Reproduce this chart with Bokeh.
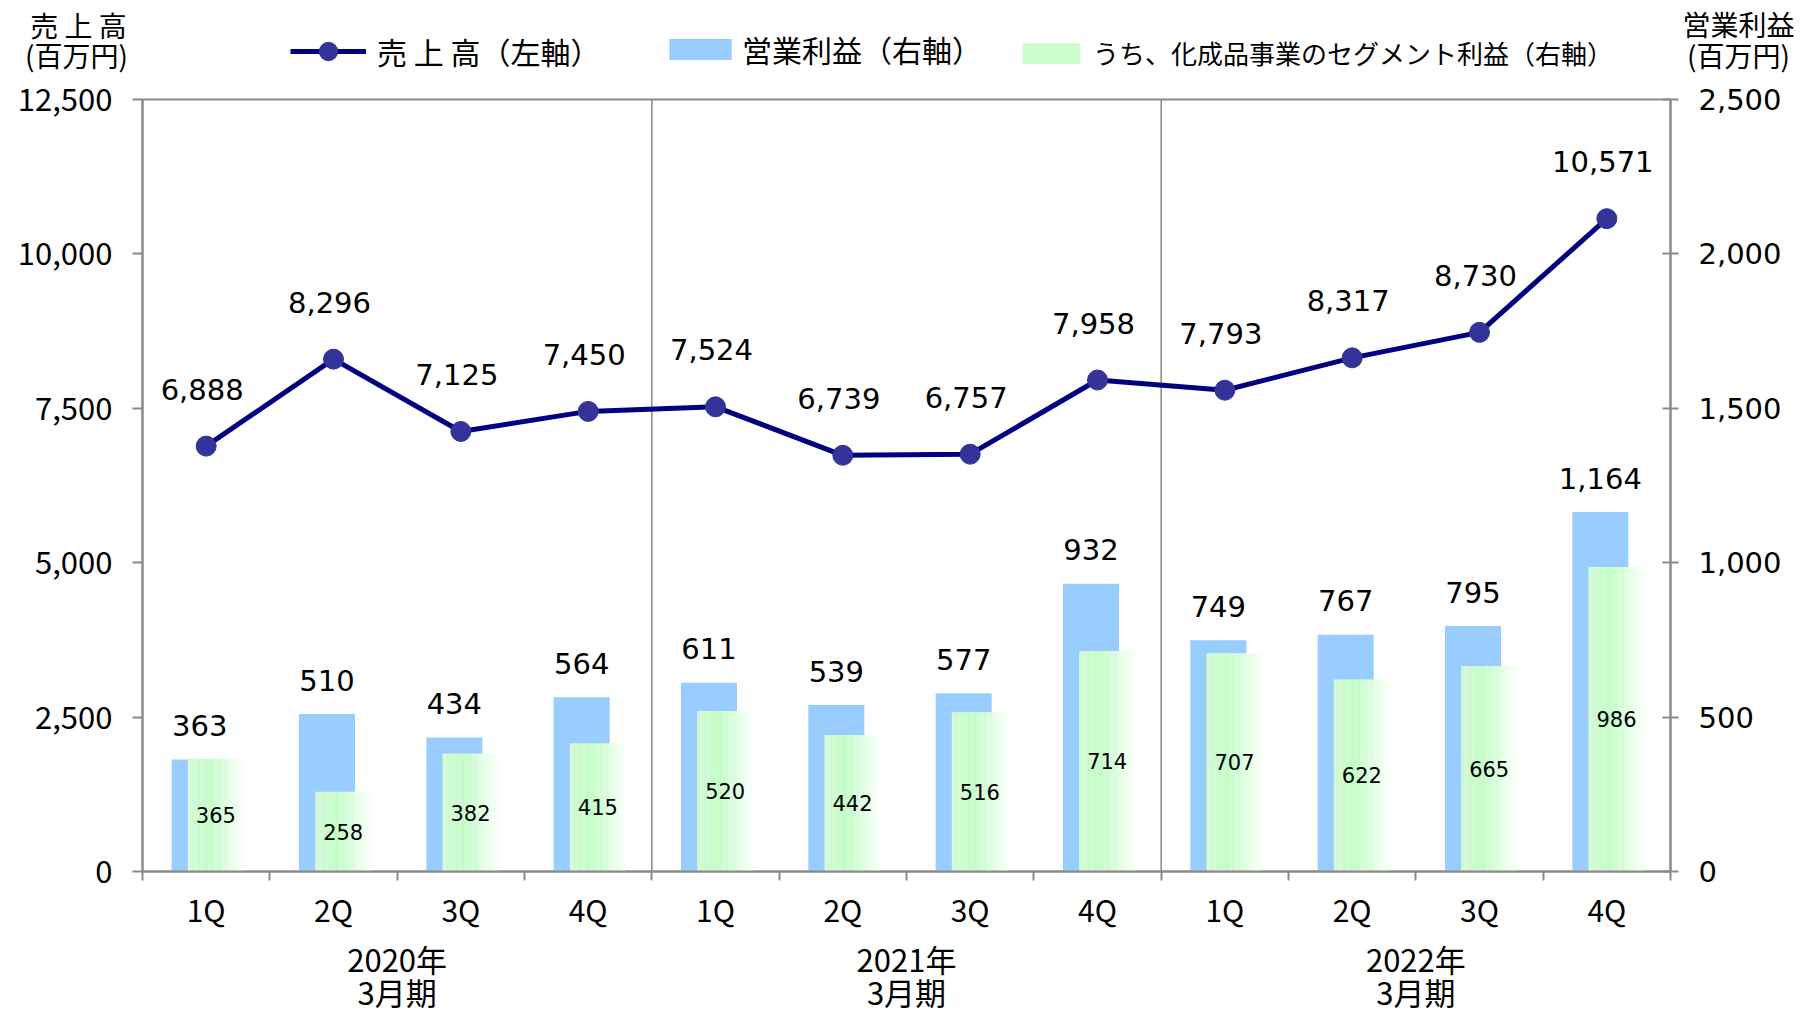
import numpy as np
from bokeh.plotting import figure
from bokeh.layouts import column
from bokeh.models import (Range1d, LinearAxis, FixedTicker, Label, Legend, LegendItem,
                          NumeralTickFormatter)
from bokeh.core.properties import value
from bokeh.embed import file_html
from bokeh.resources import INLINE

# ---------------- data ----------------
quarters = ["1Q", "2Q", "3Q", "4Q", "1Q", "2Q", "3Q", "4Q", "1Q", "2Q", "3Q", "4Q"]
fiscal_years = ["2020年", "2021年", "2022年"]
fiscal_suffix = "3月期"
sales = [6888, 8296, 7125, 7450, 7524, 6739, 6757, 7958, 7793, 8317, 8730, 10571]
op_profit = [363, 510, 434, 564, 611, 539, 577, 932, 749, 767, 795, 1164]
seg_profit = [365, 258, 382, 415, 520, 442, 516, 714, 707, 622, 665, 986]
left_ticks = [0, 2500, 5000, 7500, 10000, 12500]
right_ticks = [0, 500, 1000, 1500, 2000, 2500]
legend_labels = ["売 上 高（左軸）", "営業利益（右軸）", "うち、化成品事業のセグメント利益（右軸）"]

# ---------------- layout (pixels) ----------------
W, H = 1802, 1014
HH = 75                       # header height
FOOT_TOP = 933                # footer top (page px)
FL, FR = 142, 1670            # frame left / right
FT, FB = 99, 872              # frame top / bottom (page px)
LMAX, RMAX = 12500, 2500
n_cat = len(quarters)

JP = "Noto Sans CJK JP"
NUM = "DejaVu Sans"
GRAY = "#898989"
NAVY = "#000080"
MARK = "#333399"
BLUE = "#99ccff"

# ================= header (legend + axis titles) =================
hdr = figure(width=W, height=HH, output_backend="svg", toolbar_location=None, title=None,
             x_range=Range1d(0, W), y_range=Range1d(HH, 0), min_border=0,
             min_border_left=0, min_border_right=0, min_border_top=0, min_border_bottom=0,
             x_axis_location=None, y_axis_location=None)
hdr.frame_align = False
hdr.grid.visible = False
hdr.outline_line_color = None

for txt, px, py in (("売 上 高", 78, 24), ("(百万円)", 76, 54)):
    hdr.add_layout(Label(x=px, y=py, text=txt, text_font=JP, text_font_size="28px",
                         text_align="center", text_baseline="middle", text_color="black"))
for txt, px, py in (("営業利益", 1738, 23), ("(百万円)", 1738, 54)):
    hdr.add_layout(Label(x=px, y=py, text=txt, text_font=JP, text_font_size="28px",
                         text_align="center", text_baseline="middle", text_color="black"))

# legend-only renderers (kept off-canvas)
OFF = [-60, -50]
lg_line = hdr.line(x=OFF, y=OFF, line_color=NAVY, line_width=5)
lg_pt = hdr.scatter(x=OFF, y=OFF, size=20, fill_color=MARK, line_color=MARK)
lg_blue = hdr.vbar(x=OFF, top=OFF, width=1, fill_color=BLUE, line_color=None)
lg_green = hdr.vbar(x=OFF, top=OFF, width=1, fill_color="#cdfdcd", line_color=None)

def add_legend(label, renderers, x0, row_c, gw, gh, lh, standoff, fs):
    item_h = max(gh, lh)
    lg = Legend(items=[LegendItem(label=label, renderers=renderers, index=0)],
                location=(x0, HH - (row_c + item_h / 2)), orientation="horizontal",
                glyph_width=gw, glyph_height=gh, label_height=lh, label_standoff=standoff,
                padding=0, margin=0, border_line_color=None, background_fill_alpha=0,
                label_text_font=JP, label_text_font_size=fs, label_text_color="black")
    hdr.add_layout(lg)

add_legend(legend_labels[0], [lg_line, lg_pt], 290, 51, 76, 46, 36, 11, "30px")
add_legend(legend_labels[1], [lg_blue], 661, 53, 78, 26, 36, 3, "30px")
add_legend(legend_labels[2], [lg_green], 1015, 53, 72, 26, 36, 6, "26px")

# ================= main chart =================
MH = FOOT_TOP - HH
p = figure(width=W, height=MH, output_backend="svg", toolbar_location=None, title=None,
           x_range=Range1d(-0.5, n_cat - 0.5), y_range=Range1d(0, LMAX),
           min_border_left=FL, min_border_right=W - FR, min_border_top=FT - HH,
           min_border_bottom=FOOT_TOP - FB)
p.extra_y_ranges = {"op": Range1d(0, RMAX)}
p.grid.visible = False
p.outline_line_color = GRAY
p.outline_line_width = 2

x = list(range(n_cat))

# x axis (quarters)
xa = p.xaxis[0]
xa.ticker = FixedTicker(ticks=x, minor_ticks=[i - 0.5 for i in range(n_cat + 1)])
xa.major_label_overrides = {i: q for i, q in enumerate(quarters)}
xa.major_tick_line_color = None
xa.major_tick_out = 0
xa.major_tick_in = 0
xa.minor_tick_line_color = GRAY
xa.minor_tick_line_width = 2
xa.minor_tick_out = 9
xa.minor_tick_in = 0
xa.axis_line_color = GRAY
xa.axis_line_width = 2
xa.major_label_text_font = JP
xa.major_label_text_font_size = "30px"
xa.major_label_text_color = "black"
xa.major_label_standoff = 6

# left axis
ya = p.yaxis[0]
ya.ticker = FixedTicker(ticks=left_ticks)
ya.formatter = NumeralTickFormatter(format="0,0")
ya.axis_line_color = GRAY
ya.axis_line_width = 2
ya.major_tick_line_color = GRAY
ya.major_tick_line_width = 2
ya.major_tick_out = 10
ya.major_tick_in = 0
ya.minor_tick_line_color = None
ya.major_label_text_font = JP
ya.major_label_text_font_size = "31px"
ya.major_label_text_color = "black"
ya.major_label_standoff = 20

# right axis
ra = LinearAxis(y_range_name="op", ticker=FixedTicker(ticks=right_ticks),
                formatter=NumeralTickFormatter(format="0,0"))
ra.axis_line_color = GRAY
ra.axis_line_width = 2
ra.major_tick_line_color = GRAY
ra.major_tick_line_width = 2
ra.major_tick_out = 8
ra.major_tick_in = 8
ra.minor_tick_line_color = None
ra.major_label_text_font = NUM
ra.major_label_text_font_size = "29px"
ra.major_label_text_color = "black"
ra.major_label_standoff = 20
p.add_layout(ra, "right")

# fiscal-year separators
bounds_x = [4 * (k + 1) - 0.5 for k in range(len(fiscal_years) - 1)]
p.segment(x0=bounds_x, y0=[0] * len(bounds_x), x1=bounds_x, y1=[LMAX] * len(bounds_x),
          line_color=GRAY, line_width=1.5)

# bars
BW = 0.44
BOFF = -0.051
GOFF = 0.076
bx = [i + BOFF for i in x]
gx = [i + GOFF for i in x]
p.vbar(x=bx, width=BW, top=op_profit, bottom=0, y_range_name="op",
       fill_color=BLUE, line_color=None)

def hexrgb(h):
    return tuple(int(h[i:i + 2], 16) for i in (1, 3, 5))

def lerp(c1, c2, t):
    a, b = hexrgb(c1), hexrgb(c2)
    return "#%02x%02x%02x" % tuple(int(round(a[k] + (b[k] - a[k]) * t)) for k in range(3))

def grad(t):
    if t < 0.38:
        return lerp("#d6fbd6", "#c8fec8", t / 0.38)
    return lerp("#c8fec8", "#fbfffb", (t - 0.38) / 0.62)

NS = 24
for k in range(NS):
    t = (k + 0.5) / NS
    left = [g - BW / 2 + k * BW / NS for g in gx]
    right = [g - BW / 2 + (k + 1) * BW / NS + 0.002 for g in gx]
    p.quad(left=left, right=right, bottom=[0] * n_cat, top=seg_profit, y_range_name="op",
           fill_color=grad(t), line_color=None)

# sales line
p.line(x, sales, line_color=NAVY, line_width=5)
p.scatter(x, sales, size=20, fill_color=MARK, line_color=MARK)

# data labels
p.text(x=x, y=sales, text=[f"{v:,}" for v in sales], text_font=value(NUM),
       text_font_size="29px", text_align="center", text_baseline="middle",
       x_offset=-4, y_offset=-57, text_color="black")
p.text(x=bx, y=op_profit, text=[f"{v:,}" for v in op_profit], text_font=value(NUM),
       text_font_size="29px", text_align="center", text_baseline="middle",
       y_offset=-34, y_range_name="op", text_color="black")
p.text(x=gx, y=[v / 2 for v in seg_profit], text=[f"{v:,}" for v in seg_profit],
       text_font=value(NUM), text_font_size="21px", text_align="center",
       text_baseline="middle", y_range_name="op", text_color="black")

# ================= footer (fiscal-year group labels) =================
FH = H - FOOT_TOP
ftr = figure(width=W, height=FH, output_backend="svg", toolbar_location=None, title=None,
             x_range=p.x_range, y_range=Range1d(FH, 0),
             min_border_left=FL, min_border_right=W - FR, min_border_top=0,
             min_border_bottom=0, x_axis_location=None, y_axis_location=None)
ftr.grid.visible = False
ftr.outline_line_color = None
for k, fy in enumerate(fiscal_years):
    cx = 4 * k + 1.5
    ftr.add_layout(Label(x=cx, y=958 - FOOT_TOP, text=fy, text_font=JP,
                         text_font_size="31px", text_align="center",
                         text_baseline="middle", text_color="black"))
    ftr.add_layout(Label(x=cx, y=991 - FOOT_TOP, text=fiscal_suffix, text_font=JP,
                         text_font_size="31px", text_align="center",
                         text_baseline="middle", text_color="black"))

layout = column(hdr, p, ftr, spacing=0)
open("out.html", "w").write(file_html(layout, INLINE))
